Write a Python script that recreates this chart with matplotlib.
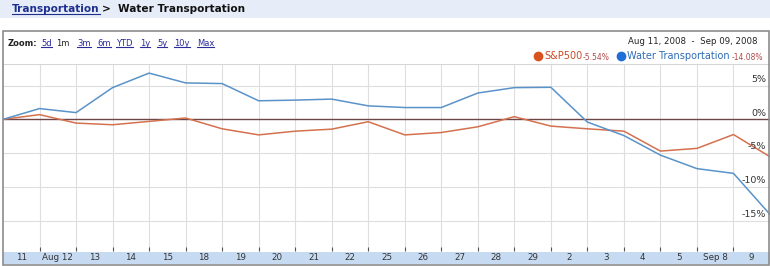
import matplotlib
matplotlib.use("Agg")
import matplotlib.pyplot as plt
from matplotlib.lines import Line2D
from matplotlib.patches import Rectangle

# closing values, % change since Aug 8 close (first point)
day_labels = ["11", "Aug 12", "13", "14", "15", "18", "19", "20", "21", "22", "25",
              "26", "27", "28", "29", "2", "3", "4", "5", "Sep 8", "9"]
water = [0, 1.6, 1.0, 4.7, 6.85, 5.4, 5.3, 2.75, 2.85, 3.0, 2.0,
         1.75, 1.75, 3.9, 4.7, 4.75, -0.4, -2.4, -5.3, -7.3, -8.0, -14.08]
sp500 = [0, 0.7, -0.55, -0.8, -0.3, 0.2, -1.4, -2.3, -1.75, -1.45, -0.35,
         -2.3, -1.95, -1.1, 0.4, -1.0, -1.4, -1.75, -4.7, -4.3, -2.25, -5.54]
y_ticks = [5, 0, -5, -10, -15]
zoom_links = ["5d", "1m", "3m", "6m", "YTD", "1y", "5y", "10y", "Max"]

W, H = 770, 266
fig = plt.figure(figsize=(W / 100, H / 100), dpi=100)
fig.patch.set_facecolor("white")

def fx(px):
    return px / W

def fy(py):
    return 1 - py / H

# header band
fig.patches.append(Rectangle((0, fy(18)), 1, 18 / H, transform=fig.transFigure,
                             facecolor="#e6edf8", edgecolor="none", zorder=0))

link_col = "#2b2b9a"
underlines = []
t = fig.text(fx(12), fy(9.5), "Transportation", fontsize=7.6, weight="bold",
             color="#1f2f8f", va="center", ha="left")
underlines.append((t, "#1f2f8f"))
fig.text(fx(102), fy(9.5), ">  Water Transportation", fontsize=7.6, weight="bold",
         color="#111111", va="center", ha="left")

# chart frame
fig.patches.append(Rectangle((fx(3), fy(265)), fx(766), (265 - 31) / H,
                             transform=fig.transFigure, facecolor="none",
                             edgecolor="#8c8c8c", lw=1.2, zorder=5))

fig.text(fx(8), fy(43), "Zoom:", fontsize=6, weight="bold", color="#222222",
         va="center", ha="left")
link_x = [41, 56, 77, 97, 116, 140, 157, 174, 197]
for lx, name in zip(link_x, zoom_links):
    if name == "1m":
        fig.text(fx(lx), fy(43), name, fontsize=6, color="#222222", va="center")
    else:
        t = fig.text(fx(lx), fy(43), name, fontsize=6, color=link_col, va="center")
        underlines.append((t, link_col))

fig.text(fx(758), fy(42), "Aug 11, 2008  -  Sep 09, 2008", fontsize=6.2,
         color="#222222", va="center", ha="right")

# legend
fig.lines.append(Line2D([fx(538)], [fy(56)], marker="o", ms=6, color="#d9531e",
                        transform=fig.transFigure))
fig.text(fx(544), fy(56), "S&P500", fontsize=7, color="#c94a22", va="center")
fig.text(fx(583), fy(57), "-5.54%", fontsize=5.5, color="#b04a4a", va="center")
fig.lines.append(Line2D([fx(621)], [fy(56)], marker="o", ms=6, color="#1f6fd6",
                        transform=fig.transFigure))
fig.text(fx(627), fy(56), "Water Transportation", fontsize=7, color="#2e6db4",
         va="center")
fig.text(fx(732), fy(57), "-14.08%", fontsize=5.5, color="#b04a4a", va="center")

# plot area
ax = fig.add_axes([fx(3), fy(251), fx(767), (251 - 64) / H])
x = list(range(len(water)))
ax.plot(x, sp500, color="#d4714f", lw=1.1, zorder=3)
ax.plot(x, water, color="#5a93c9", lw=1.1, zorder=4)
ax.axhline(0, color="#6e4646", lw=1, zorder=2)
ax.set_xlim(0, 21)
ax.set_ylim(-19.5, 8.2)
for i in range(1, 21):
    ax.axvline(i, color="#dedede", lw=0.8, zorder=1)
for v in y_ticks:
    if v != 0:
        ax.axhline(v, color="#dedede", lw=0.8, zorder=1)
    ax.text(20.9, v + 0.25, f"{v}%", ha="right", va="bottom", fontsize=6.8,
            color="#333333", zorder=6)
ax.axhline(8.2, color="#d6d6d6", lw=1.5, zorder=1)
ax.set_xticks(range(1, 21))
ax.set_xticklabels([])
ax.set_yticks([])
ax.tick_params(axis="x", direction="in", length=3, color="#555555", width=0.8)
for s in ax.spines.values():
    s.set_visible(False)

# date band
band = fig.add_axes([fx(3), fy(264), fx(767), 12 / H])
band.set_facecolor("#c6dbf2")
band.set_xlim(0, 21)
band.set_ylim(0, 1)
band.set_xticks([])
band.set_yticks([])
for s in band.spines.values():
    s.set_visible(False)
for i, lab in enumerate(day_labels):
    band.text(i + 0.5, 0.5, lab, ha="center", va="center", fontsize=6.3,
              color="#333333")

# underline links
fig.canvas.draw()
r = fig.canvas.get_renderer()
for t, c in underlines:
    bb = t.get_window_extent(r)
    yb = bb.y0 + 1
    fig.lines.append(Line2D([bb.x0 / W, bb.x1 / W], [yb / H, yb / H], color=c,
                            lw=0.8, transform=fig.transFigure))

fig.savefig("out.png", dpi=100)
